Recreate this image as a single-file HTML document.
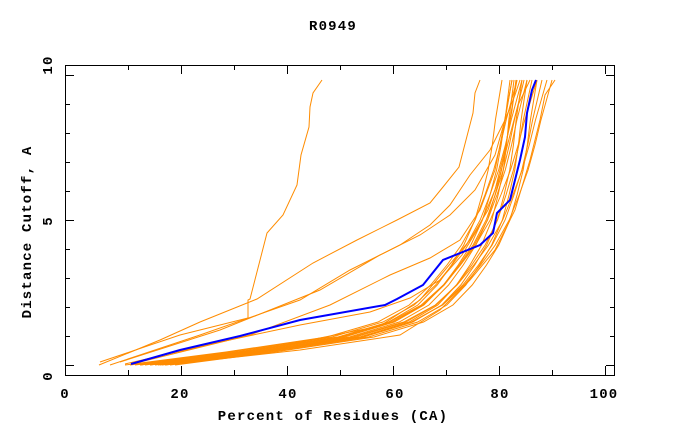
<!DOCTYPE html>
<html><head><meta charset="utf-8"><style>
html,body{margin:0;padding:0;background:#fff;}
svg{display:block;}
text{font-family:"Liberation Mono","DejaVu Sans Mono",monospace;font-weight:bold;font-size:14px;letter-spacing:1.2px;fill:#000;}
</style></head><body>
<svg width="680" height="440" viewBox="0 0 680 440" xmlns="http://www.w3.org/2000/svg">
<rect width="680" height="440" fill="#fff"/>
<text x="333" y="30" text-anchor="middle">R0949</text>
<text x="333" y="420" text-anchor="middle">Percent of Residues (CA)</text>
<text transform="translate(31,232) rotate(-90)" text-anchor="middle">Distance Cutoff, A</text>
<text x="65" y="398" text-anchor="middle">0</text>
<text x="180" y="398" text-anchor="middle">20</text>
<text x="288" y="398" text-anchor="middle">40</text>
<text x="395" y="398" text-anchor="middle">60</text>
<text x="500" y="398" text-anchor="middle">80</text>
<text x="604" y="398" text-anchor="middle">100</text>
<text transform="translate(52,376) rotate(-90)" text-anchor="middle">0</text>
<text transform="translate(52,221) rotate(-90)" text-anchor="middle">5</text>
<text transform="translate(52,65) rotate(-90)" text-anchor="middle">10</text>
<rect x="65.5" y="65.5" width="549" height="310" fill="none" stroke="#000" stroke-width="1"/>
<g stroke="#000" stroke-width="1">
<path d="M128.5 375v-5M181.5 375v-9M234.5 375v-5M287.5 375v-9M340.5 375v-5M393.5 375v-9M446.5 375v-5M499.5 375v-9M552.5 375v-5M605.5 375v-9"/>
<path d="M128.5 65v5M181.5 65v9M234.5 65v5M287.5 65v9M340.5 65v5M393.5 65v9M446.5 65v5M499.5 65v9M552.5 65v5M605.5 65v9"/>
<path d="M65 365.5h9M65 336.5h5M65 307.5h5M65 278.5h5M65 249.5h5M65 220.5h9M65 191.5h5M65 162.5h5M65 133.5h5M65 104.5h5M65 75.5h9"/>
<path d="M615 365.5h-9M615 336.5h-5M615 307.5h-5M615 278.5h-5M615 249.5h-5M615 220.5h-9M615 191.5h-5M615 162.5h-5M615 133.5h-5M615 104.5h-5M615 75.5h-9"/>
</g>
<defs>
<polyline id="b" points="150,365 250,352 350,337 400,322 430,305 450,285 465,265 478,245 490,220 498,195 505,170 510,145 514,120 518,100 522,80"/>
</defs>
<g fill="none" stroke="#ff8c00" stroke-width="1">
<use href="#b" transform="matrix(1,0,-0.0702,1,5.6,0)"/>
<use href="#b" transform="matrix(1,0,-0.0526,1,9.2,0)"/>
<use href="#b" transform="matrix(1,0,0.0175,1,-6.4,0)"/>
<use href="#b" transform="matrix(1,0,-0.0175,1,11.4,0)"/>
<use href="#b" transform="matrix(1,0,0.0526,1,-4.2,0)"/>
<use href="#b" transform="matrix(1,0,-0.1053,1,23.4,0)"/>
<use href="#b" transform="matrix(1,0,-0.0351,1,22.8,0)"/>
<use href="#b" transform="matrix(1,0,0.0526,1,0.8,0)"/>
<use href="#b" transform="matrix(1,0,0.0175,1,-11.4,0)"/>
<use href="#b" transform="matrix(1,0,0.0351,1,12.2,0)"/>
<use href="#b" transform="matrix(1,0,-0.0877,1,32,0)"/>
<use href="#b" transform="matrix(1,0,-0.0702,1,0.6,0)"/>
<use href="#b" transform="matrix(1,0,0.0702,1,-13.6,0)"/>
<use href="#b" transform="matrix(1,0,-0.0772,1,36.2,0)"/>
<use href="#b" transform="matrix(1,0,0.0351,1,-22.8,0)"/>
<use href="#b" transform="matrix(1,0,-0.0421,1,5.4,0)"/>
<polyline points="110,365 200,335 300,300 350,270 400,245 430,225 450,205 470,175 490,150 505,120 515,95 520,80"/>
<polyline points="120,362 220,330 320,290 380,255 420,235 450,215 475,190 495,155 505,120 512,80"/>
<polyline points="140,362 250,335 330,305 390,275 430,258 460,240 480,210 495,170 505,120 510,80"/>
<polyline points="165,365 300,350 400,335 440,310 470,280 495,250 515,210 530,160 540,120 545,95 555,80"/>
<polyline points="155,364 280,346 380,326 420,300 445,270 470,240 488,210 500,175 510,135 518,105 530,80"/>
<polyline points="125,364 220,342 300,325 370,312 410,298 440,280 462,255 480,225 495,190 505,150 512,110 516,80"/>
<polyline points="100,362 180,335 248,318 248,300 250,299 267,233 283,215 297,185 301,155 309,127 310,107 313,93 322,80"/>
<polyline points="99,365 160,340 200,322 257,299 313,263 357,240 397,220 430,203 443,187 459,167 473,113 475,93 480,80"/>
</g>
<polyline fill="none" stroke="#0000ff" stroke-width="2" points="131,364 180,350 240,336 300,320 385,305 397,299 423,285 443,260 480,245 493,233 497,213 510,200 520,160 525,137 527,113 532,90 536,80"/>
</svg>
</body></html>
